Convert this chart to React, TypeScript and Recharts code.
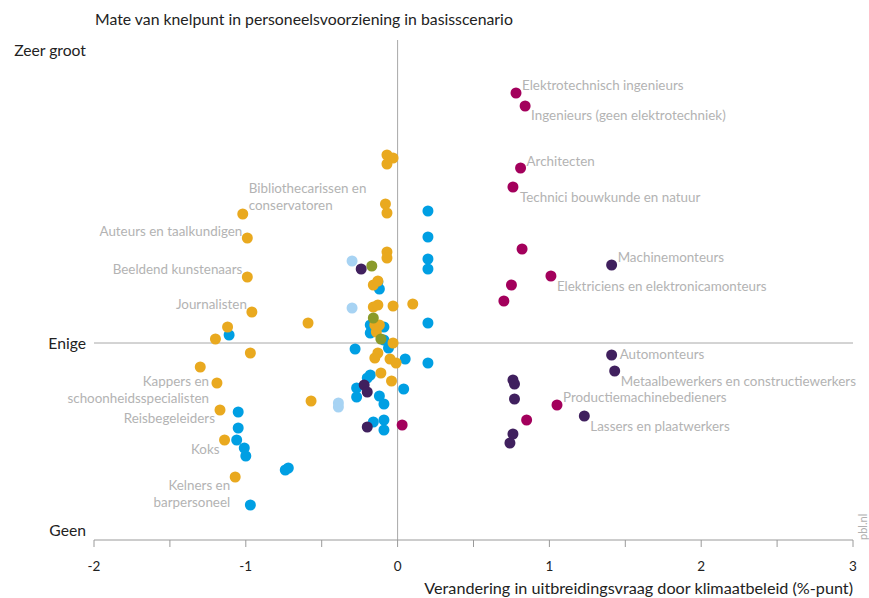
import {
  ReferenceLine,
  Scatter,
  ScatterChart,
  XAxis,
  YAxis,
} from 'recharts'

type Pt = { x: number; y: number; label?: string }

// y: 0 = Geen, 100 = top of plot (Enige ≈ 39.4, Zeer groot ≈ 98)
const xTicks = [-2, -1.5, -1, -0.5, 0, 0.5, 1, 1.5, 2, 2.5, 3]
const yTicks = [2, 39.4, 98]
const yTickLabels = ['Geen', 'Enige', 'Zeer groot']
const enigeLevel = 39.4

const blauw: Pt[] = [
  { x: 0.2, y: 65.8 }, { x: 0.2, y: 60.6 }, { x: 0.2, y: 56.2 }, { x: 0.2, y: 54.2 },
  { x: 0.2, y: 43.4 }, { x: 0.2, y: 35.4 }, { x: -0.13, y: 51.6 }, { x: -0.12, y: 50.2 },
  { x: -0.18, y: 43.0 }, { x: -0.09, y: 42.6 }, { x: -0.18, y: 41.4 }, { x: -0.09, y: 40.0 },
  { x: -0.06, y: 38.4 }, { x: -0.28, y: 38.2 }, { x: 0.05, y: 36.2 }, { x: -0.18, y: 33.0 },
  { x: -0.2, y: 32.4 }, { x: -0.27, y: 30.4 }, { x: -0.27, y: 28.6 }, { x: 0.04, y: 30.2 },
  { x: -0.12, y: 28.8 }, { x: -0.09, y: 27.2 }, { x: -0.16, y: 23.6 }, { x: -0.09, y: 24.0 },
  { x: -0.09, y: 22.0 }, { x: -1.11, y: 41.0 }, { x: -1.05, y: 25.6 }, { x: -1.05, y: 22.4 },
  { x: -1.06, y: 20.0 }, { x: -1.01, y: 18.4 }, { x: -1.0, y: 16.8 }, { x: -0.74, y: 14.0 },
  { x: -0.72, y: 14.4 }, { x: -0.97, y: 7.0 },
]

const oranje: Pt[] = [
  { x: -0.07, y: 77.0 }, { x: -0.03, y: 76.4 }, { x: -0.07, y: 75.2 }, { x: -0.08, y: 67.2 },
  { x: -0.07, y: 65.4 }, { x: -0.07, y: 57.6 }, { x: -0.07, y: 56.4 }, { x: -0.16, y: 51.0 },
  { x: -0.13, y: 51.8 }, { x: -0.16, y: 46.6 }, { x: -0.13, y: 47.0 }, { x: -0.03, y: 46.8 },
  { x: 0.1, y: 47.2 }, { x: -0.59, y: 43.4 }, { x: -0.15, y: 43.0 }, { x: -0.12, y: 43.0 },
  { x: -0.14, y: 41.6 }, { x: -0.03, y: 39.4 }, { x: -0.13, y: 37.4 }, { x: -0.15, y: 36.4 },
  { x: -0.05, y: 36.2 }, { x: -0.01, y: 35.4 }, { x: -0.11, y: 33.4 }, { x: -0.04, y: 31.8 },
  { x: -0.57, y: 27.8 }, { x: -1.12, y: 42.6 }, { x: -1.2, y: 40.2 }, { x: -0.97, y: 37.4 },
  { x: -1.3, y: 34.6 },
  { x: -1.02, y: 65.2, label: 'Bibliothecarissen en\nconservatoren' },
  { x: -0.99, y: 60.4, label: 'Auteurs en taalkundigen' },
  { x: -0.99, y: 52.6, label: 'Beeldend kunstenaars' },
  { x: -0.96, y: 45.6, label: 'Journalisten' },
  { x: -1.19, y: 31.4, label: 'Kappers en\nschoonheidsspecialisten' },
  { x: -1.17, y: 26.0, label: 'Reisbegeleiders' },
  { x: -1.14, y: 20.0, label: 'Koks' },
  { x: -1.07, y: 12.6, label: 'Kelners en\nbarpersoneel' },
]

const lichtblauw: Pt[] = [
  { x: -0.3, y: 55.8 }, { x: -0.3, y: 46.4 }, { x: -0.39, y: 27.4 }, { x: -0.39, y: 26.6 },
]

const olijf: Pt[] = [
  { x: -0.17, y: 54.8 }, { x: -0.16, y: 44.4 }, { x: -0.11, y: 40.2 },
]

const paars: Pt[] = [
  { x: 0.76, y: 32.0 }, { x: 0.77, y: 31.2 }, { x: 0.77, y: 28.2 }, { x: 0.76, y: 21.2 },
  { x: 0.74, y: 19.4 }, { x: -0.24, y: 54.2 }, { x: -0.22, y: 31.0 }, { x: -0.2, y: 29.6 },
  { x: -0.2, y: 22.6 },
  { x: 1.41, y: 55.0, label: 'Machinemonteurs' },
  { x: 1.41, y: 37.0, label: 'Automonteurs' },
  { x: 1.43, y: 33.8, label: 'Metaalbewerkers en constructiewerkers' },
  { x: 1.23, y: 24.8, label: 'Lassers en plaatwerkers' },
]

const magenta: Pt[] = [
  { x: 0.82, y: 58.2 }, { x: 0.75, y: 51.0 }, { x: 0.7, y: 47.8 }, { x: 0.85, y: 24.0 },
  { x: 0.03, y: 23.0 },
  { x: 0.78, y: 89.4, label: 'Elektrotechnisch ingenieurs' },
  { x: 0.84, y: 86.8, label: 'Ingenieurs (geen elektrotechniek)' },
  { x: 0.81, y: 74.4, label: 'Architecten' },
  { x: 0.76, y: 70.6, label: 'Technici bouwkunde en natuur' },
  { x: 1.01, y: 52.8, label: 'Elektriciens en elektronicamonteurs' },
  { x: 1.05, y: 27.0, label: 'Productiemachinebedieners' },
]

const series = [
  { data: blauw, color: '#009fe3' },
  { data: oranje, color: '#e9a91f' },
  { data: lichtblauw, color: '#a7d3f3' },
  { data: olijf, color: '#8a9a2a' },
  { data: paars, color: '#40205e' },
  { data: magenta, color: '#a3005c' },
]

// where each label sits relative to its dot
const labelPos: Record<string, { dx: number; dy: number; anchor: 'start' | 'end' }> = {
  'Elektrotechnisch ingenieurs': { dx: 6, dy: -8, anchor: 'start' },
  'Ingenieurs (geen elektrotechniek)': { dx: 6, dy: 9, anchor: 'start' },
  Architecten: { dx: 6, dy: -7, anchor: 'start' },
  'Technici bouwkunde en natuur': { dx: 7, dy: 10, anchor: 'start' },
  Machinemonteurs: { dx: 6, dy: -8, anchor: 'start' },
  'Elektriciens en elektronicamonteurs': { dx: 6, dy: 10, anchor: 'start' },
  Automonteurs: { dx: 8, dy: -1, anchor: 'start' },
  'Metaalbewerkers en constructiewerkers': { dx: 6, dy: 10, anchor: 'start' },
  Productiemachinebedieners: { dx: 6, dy: -8, anchor: 'start' },
  'Lassers en plaatwerkers': { dx: 6, dy: 10, anchor: 'start' },
  'Bibliothecarissen en\nconservatoren': { dx: 6, dy: -26, anchor: 'start' },
  'Auteurs en taalkundigen': { dx: -5, dy: -7, anchor: 'end' },
  'Beeldend kunstenaars': { dx: -5, dy: -8, anchor: 'end' },
  Journalisten: { dx: -5, dy: -8, anchor: 'end' },
  'Kappers en\nschoonheidsspecialisten': { dx: -8, dy: -2, anchor: 'end' },
  Reisbegeleiders: { dx: -5, dy: 8, anchor: 'end' },
  Koks: { dx: -5, dy: 9, anchor: 'end' },
  'Kelners en\nbarpersoneel': { dx: -5, dy: 8, anchor: 'end' },
}

const font = 'Lato, "Open Sans", sans-serif'

const Dot = (props: any) => {
  const { cx, cy, fill } = props
  if (cx == null || cy == null) return <g />
  return <circle cx={cx} cy={cy} r={5.5} fill={fill} />
}

const LabelText = (props: any) => {
  const { cx, cy, payload } = props
  const text: string = payload?.label
  if (!text || cx == null) return <g />
  const pos = labelPos[text] ?? { dx: 6, dy: 0, anchor: 'start' }
  const lines = text.split('\n')
  return (
    <text
      x={cx + pos.dx}
      y={cy + pos.dy}
      textAnchor={pos.anchor}
      dominantBaseline="central"
      fontSize={13.4}
      fontFamily={font}
      fill="#b3b3b3"
    >
      {lines.map((l, i) => (
        <tspan key={i} x={cx + pos.dx} dy={i === 0 ? 0 : 17}>
          {l}
        </tspan>
      ))}
    </text>
  )
}

const labelled = series.flatMap((s) => s.data.filter((d) => d.label))

export default function App() {
  return (
    <div style={{ position: 'absolute', left: 0, top: 0, width: 869, height: 598, background: '#fff', fontFamily: font }}>
      <div style={{ position: 'absolute', left: 95, top: 9, fontSize: 15.8, lineHeight: '20px', color: '#222', whiteSpace: 'nowrap' }}>
        Mate van knelpunt in personeelsvoorziening in basisscenario
      </div>
      <ScatterChart width={869} height={598} margin={{ top: 40, right: 16, bottom: 28, left: 0 }}>
        <XAxis
          type="number"
          dataKey="x"
          domain={[-2, 3]}
          ticks={xTicks}
          interval={0}
          tickFormatter={(v: number) => (Number.isInteger(v) ? String(v) : '')}
          axisLine={{ stroke: '#9a9a9a' }}
          tickLine={{ stroke: '#9a9a9a' }}
          tickSize={7}
          tickMargin={14}
          tick={{ fontSize: 13.5, fill: '#222', fontFamily: font }}
          height={30}
        />
        <YAxis
          type="number"
          dataKey="y"
          domain={[0, 100]}
          ticks={yTicks}
          interval={0}
          tickFormatter={(v: number) => yTickLabels[yTicks.indexOf(v)] ?? ''}
          axisLine={false}
          tickLine={false}
          tickSize={0}
          tickMargin={8}
          width={94}
          tick={{ fontSize: 15.7, fill: '#222', fontFamily: font }}
        />
        <ReferenceLine y={enigeLevel} stroke="#a8a8a8" strokeWidth={1} />
        <ReferenceLine x={0} stroke="#a8a8a8" strokeWidth={1} />
        {series.map((s, i) => (
          <Scatter key={i} data={s.data} fill={s.color} shape={Dot} isAnimationActive={false} />
        ))}
        <Scatter data={labelled} fill="none" shape={LabelText} isAnimationActive={false} />
      </ScatterChart>
      <div style={{ position: 'absolute', right: 16, top: 578, fontSize: 16.2, lineHeight: '20px', color: '#222', whiteSpace: 'nowrap' }}>
        Verandering in uitbreidingsvraag door klimaatbeleid (%-punt)
      </div>
      <div
        style={{
          position: 'absolute',
          left: 856,
          top: 540,
          fontSize: 11,
          color: '#b0b0b0',
          transform: 'rotate(-90deg)',
          transformOrigin: 'left top',
          whiteSpace: 'nowrap',
        }}
      >
        pbl.nl
      </div>
    </div>
  )
}
